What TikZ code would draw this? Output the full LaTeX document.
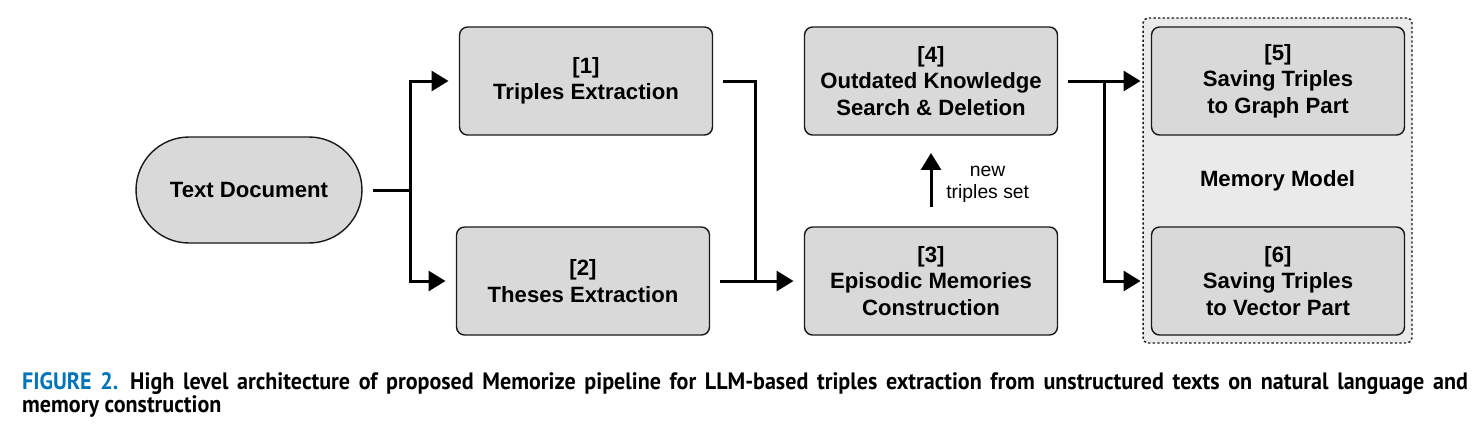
\documentclass[tikz,border=0pt]{standalone}
\usepackage{fontspec}
\setmainfont{Liberation Sans}
\newfontfamily\legende[FakeStretch=0.93]{PT Sans}
\usetikzlibrary{arrows.meta}

\tikzset{
  etape/.style={draw=bord, fill=boite, line width=0.8pt, rounded corners=0.16cm,
    minimum width=5.06cm, minimum height=2.16cm, align=center, outer sep=0.22cm,
    font=\bfseries\fontsize{12.6}{15}\selectfont},
  fleche/.style={line width=1.7pt, -{Triangle[length=0.34cm,width=0.4cm]}},
  trait/.style={line width=1.7pt}
}

\begin{document}
\begin{tikzpicture}[x=0.02cm, y=-0.02cm]
  \definecolor{boite}{RGB}{217,217,217}
  \definecolor{fond}{RGB}{234,234,234}
  \definecolor{bord}{RGB}{25,25,25}
  \definecolor{bleu}{RGB}{0,116,184}
  \useasboundingbox (0,0) rectangle (1479,434);

  % bloc memoire
  \node[draw=bord, fill=fond, line width=0.8pt, dash pattern=on 1.3pt off 1.3pt,
    rounded corners=0.1cm, minimum width=5.38cm, minimum height=6.5cm,
    font=\bfseries\fontsize{12.6}{15}\selectfont] (mem) at (1277.5,180.5) {Memory Model};

  \node[etape, rounded corners=1.06cm, minimum width=4.52cm, minimum height=2.12cm] (doc) at (249,190) {Text Document};
  \node[etape] (trip) at (586,81) {[1]\\Triples Extraction};
  \node[etape] (thes) at (583,281) {[2]\\Theses Extraction};
  \node[etape] (epis) at (931,281) {[3]\\Episodic Memories\\Construction};
  \node[etape] (outd) at (931,81) {[4]\\Outdated Knowledge\\Search \& Deletion};
  \node[etape] (graph) at (1278,81) {[5]\\Saving Triples\\to Graph Part};
  \node[etape] (vect) at (1278,281) {[6]\\Saving Triples\\to Vector Part};

  \coordinate (b1) at (410,190);
  \coordinate (b2) at (755,281);
  \coordinate (b3) at (1104,81);

  \draw[trait] (doc.east) -- (b1);
  \draw[fleche] (b1) |- (trip.west);
  \draw[fleche] (b1) |- (thes.west);
  \draw[trait] (trip.east) -| (b2);
  \draw[fleche] (thes.east) -- (epis.west);
  \draw[fleche, shorten <=0.18cm, shorten >=0.14cm] (epis.north) -- (outd.south)
    node[midway, right=0.16cm, yshift=-0.06cm, align=center, font=\fontsize{11}{12.5}\selectfont] {new\\triples set};
  \draw[fleche] (outd.east) -- (graph.west);
  \draw[fleche] (b3) |- (vect.west);

  \node[anchor=base west, align=left, font=\legende\bfseries\fontsize{13.5}{13}\selectfont] (leg) at (16,412)
    {\makebox[28.92cm][s]{\textcolor{bleu}{FIGURE 2.}\enspace High level architecture of proposed Memorize pipeline for LLM-based triples extraction from unstructured texts on natural language and}\\memory construction};
\end{tikzpicture}
\end{document}
